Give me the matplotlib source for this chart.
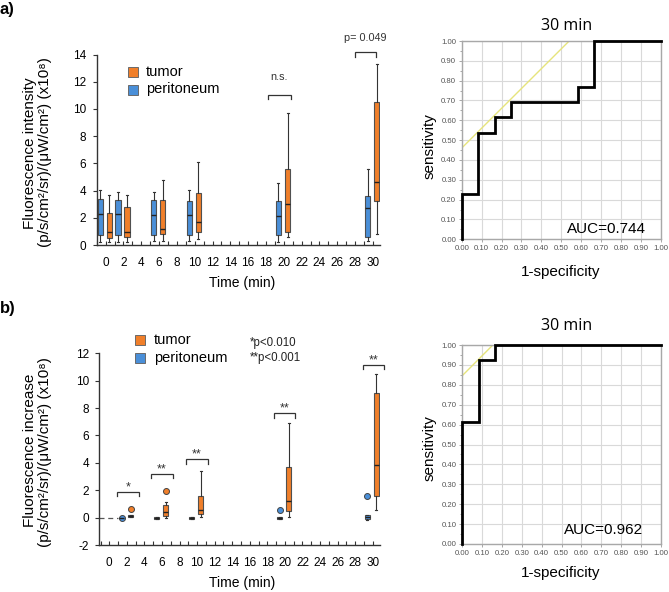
import numpy as np
import matplotlib
matplotlib.use("Agg")
import matplotlib.pyplot as plt
from matplotlib.patches import Rectangle

plt.rcParams['font.family'] = ['Liberation Sans', 'DejaVu Sans']

W, H = 669, 592
fig = plt.figure(figsize=(W / 100, H / 100), dpi=100)

def fx(x):
    return x / W

def fy(y):
    return 1 - y / H

# ---------------- data ----------------
times_a = [0, 2, 6, 10, 20, 30]
# (whislo, q1, med, q3, whishi)
peri_a = [
    (0.24, 0.73, 2.28, 3.35, 4.02),
    (0.24, 0.73, 2.28, 3.30, 3.92),
    (0.27, 0.73, 2.20, 3.30, 3.92),
    (0.27, 0.73, 2.20, 3.25, 4.02),
    (0.24, 0.73, 2.15, 3.25, 4.58),
    (0.30, 0.61, 2.74, 3.62, 5.58),
]
tumor_a = [
    (0.22, 0.55, 0.92, 2.33, 3.65),
    (0.24, 0.61, 0.93, 2.77, 3.67),
    (0.30, 0.78, 1.17, 3.30, 4.75),
    (0.42, 0.93, 1.66, 3.84, 6.12),
    (0.61, 0.98, 3.01, 5.56, 9.67),
    (0.81, 3.23, 4.60, 10.52, 13.27),
]
times_b = [2, 6, 10, 20, 30]
peri_b = [
    (-0.05, -0.05, -0.05, -0.05, -0.05),
    (-0.08, -0.07, 0.00, 0.07, 0.08),
    (-0.08, -0.07, 0.00, 0.06, 0.07),
    (-0.08, -0.07, 0.00, 0.06, 0.07),
    (-0.15, -0.08, 0.05, 0.20, 0.22),
]
peri_b_out = [[-0.05], [], [], [0.56], [1.58]]
tumor_b = [
    (0.06, 0.08, 0.15, 0.20, 0.22),
    (0.00, 0.15, 0.40, 0.90, 1.17),
    (0.05, 0.29, 0.56, 1.61, 3.41),
    (0.07, 0.51, 1.24, 3.72, 6.94),
    (0.56, 1.58, 3.85, 9.08, 10.50),
]
tumor_b_out = [[0.63], [1.97], [], [], []]
baseline_x = [-1.14, 1.0]
baseline_y = [0, 0]

# significance brackets: (x0, x1, y, label, text baseline)
brackets_a = [(18.2, 20.8, 11.06, 'n.s.', 12.1), (28.0, 30.4, 14.15, 'p= 0.049', 15.0)]
brackets_b = [(0.9, 3.4, 1.90, '*', 2.0), (4.7, 7.2, 3.19, '**', 3.31),
              (8.7, 11.2, 4.26, '**', 4.38), (18.8, 21.2, 7.62, '**', 7.75),
              (28.9, 31.3, 11.15, '**', 11.27)]

# ROC data
fpr_a = [0, 0, 1/12, 1/12, 2/12, 2/12, 3/12, 3/12, 7/12, 7/12, 8/12, 8/12, 1]
tpr_a = [0, 3/13, 3/13, 7/13, 7/13, 8/13, 8/13, 9/13, 9/13, 10/13, 10/13, 1, 1]
fpr_b = [0, 0, 1/12, 1/12, 2/12, 2/12, 1]
tpr_b = [0, 8/13, 8/13, 12/13, 12/13, 1, 1]
auc_a = 0.744
auc_b = 0.962
tangent_a = ([0, 0.54], [0.46, 1.0])
tangent_b = ([0, 0.154], [0.846, 1.0])

C_T = '#F07F2A'
C_P = '#4A8FD8'
EDGE = '#505050'

def stats_list(vals, outs=None):
    res = []
    for i, (lo, q1, med, q3, hi) in enumerate(vals):
        res.append(dict(whislo=lo, q1=q1, med=med, q3=q3, whishi=hi,
                        fliers=(outs[i] if outs else [])))
    return res

def draw_boxes(ax, stats, positions, color):
    ax.bxp(stats, positions=positions, widths=0.6, patch_artist=True,
           showfliers=True, capwidths=0.22,
           boxprops=dict(facecolor=color, edgecolor=EDGE, linewidth=0.8),
           medianprops=dict(color='#222222', linewidth=1.0),
           whiskerprops=dict(color='#333333', linewidth=0.8),
           capprops=dict(color='#333333', linewidth=0.8),
           flierprops=dict(marker='o', markerfacecolor=color,
                           markeredgecolor='#444444', markersize=4.3,
                           markeredgewidth=0.7))

def style_box_axes(ax, xlim, ylim, yticks):
    ax.set_xlim(*xlim)
    ax.set_ylim(*ylim)
    for s in ['top', 'right']:
        ax.spines[s].set_visible(False)
    for s in ['left', 'bottom']:
        ax.spines[s].set_color('#333333')
        ax.spines[s].set_linewidth(1.0)
    ax.set_xticks(range(0, 31, 2))
    ax.set_xticks(range(-1, 31, 1), minor=True)
    ax.set_xticklabels([str(v) for v in range(0, 31, 2)])
    ax.set_yticks(yticks)
    ax.set_yticklabels([str(v) for v in yticks])
    ax.tick_params(axis='x', which='both', direction='in', length=3.2,
                   width=0.8, color='#333333', labelsize=8.5, pad=8.5)
    ax.tick_params(axis='y', which='major', direction='out', length=3,
                   width=0.8, color='#333333', labelsize=8.5, pad=4.5)

def brackets(ax, items, fs):
    for x0, x1, y, lab, ty in items:
        h = 0.32
        ax.plot([x0, x0, x1, x1], [y - h, y, y, y - h], color='#333333',
                lw=0.9, clip_on=False, solid_joinstyle='miter')
        ax.text((x0 + x1) / 2, ty, lab, ha='center', va='baseline',
                fontsize=fs, color='#333333', clip_on=False)

# ---------------- panel a (box) ----------------
ax_a = fig.add_axes([fx(96.7), fy(245), fx(380) - fx(96.7), fy(54.5) - fy(245)])
draw_boxes(ax_a, stats_list(peri_a), [t - 0.6 for t in times_a], C_P)
draw_boxes(ax_a, stats_list(tumor_a), [t + 0.42 for t in times_a], C_T)
style_box_axes(ax_a, (-1.0, 30.8), (0, 14), list(range(0, 15, 2)))
brackets(ax_a, brackets_a, 7.8)

# ---------------- panel b (box) ----------------
ax_b = fig.add_axes([fx(99.3), fy(545), fx(380) - fx(99.3), fy(353.3) - fy(545)])
ax_b.plot(baseline_x, baseline_y, ls=(0, (4, 3)), color='#555555', lw=0.9)
draw_boxes(ax_b, stats_list(peri_b, peri_b_out), [t - 0.6 for t in times_b], C_P)
draw_boxes(ax_b, stats_list(tumor_b, tumor_b_out), [t + 0.42 for t in times_b], C_T)
style_box_axes(ax_b, (-1.14, 30.83), (-2, 12), list(range(-2, 13, 2)))
brackets(ax_b, brackets_b, 9)

# y labels and x labels for box panels
lab_fs = 11
fig.text(fx(30), fy(153), 'Fluorescence intensity', rotation=90,
         ha='center', va='center', fontsize=lab_fs)
fig.text(fx(45), fy(152), '(p/s/cm²/sr)/(μW/cm²) (x10⁸)', rotation=90,
         ha='center', va='center', fontsize=lab_fs)
fig.text(fx(30), fy(450), 'Fluorescence increase', rotation=90,
         ha='center', va='center', fontsize=lab_fs)
fig.text(fx(45), fy(452), '(p/s/cm²/sr)/(μW/cm²) (x10⁸)', rotation=90,
         ha='center', va='center', fontsize=lab_fs)
fig.text(fx(242), fy(283), 'Time (min)', ha='center', va='center', fontsize=10)
fig.text(fx(242.3), fy(583), 'Time (min)', ha='center', va='center', fontsize=10)

# panel letters
fig.text(fx(0), fy(9.5), 'a)', ha='left', va='center', fontsize=12, fontweight='bold')
fig.text(fx(0), fy(308), 'b)', ha='left', va='center', fontsize=12, fontweight='bold')

# manual legends
def legend_square(x, y, color):
    fig.add_artist(Rectangle((fx(x), fy(y + 9.5)), 10 / W, 9.5 / H,
                             facecolor=color, edgecolor='#6A6A6A', lw=0.7,
                             transform=fig.transFigure))

legend_square(128, 67, C_T)
legend_square(128, 85, C_P)
fig.text(fx(146), fy(71.5), 'tumor', ha='left', va='center', fontsize=10.5)
fig.text(fx(146), fy(89.5), 'peritoneum', ha='left', va='center', fontsize=10.5)

legend_square(135, 335, C_T)
legend_square(135, 353, C_P)
fig.text(fx(154), fy(340), 'tumor', ha='left', va='center', fontsize=10.5)
fig.text(fx(154), fy(358), 'peritoneum', ha='left', va='center', fontsize=10.5)
fig.text(fx(250), fy(343), '*p<0.010', ha='left', va='center', fontsize=8.3, color='#222222')
fig.text(fx(250), fy(358.5), '**p<0.001', ha='left', va='center', fontsize=8.3, color='#222222')

# ---------------- ROC panels ----------------
def roc_axes(rect, fpr, tpr, tang, auc, title_y, auc_xy, ylab_y, xlab_y):
    ax = fig.add_axes(rect)
    ax.set_xlim(0, 1)
    ax.set_ylim(0, 1)
    ticks = np.round(np.arange(0, 1.001, 0.1), 2)
    ax.set_xticks(ticks)
    ax.set_yticks(ticks)
    ax.set_yticks(np.round(np.arange(0.05, 1.0, 0.1), 2), minor=True)
    ax.set_xticklabels([f'{t:.2f}' for t in ticks])
    ax.set_yticklabels([f'{t:.2f}' for t in ticks])
    ax.grid(True, which='major', color='#D9D9D9', lw=0.8)
    ax.set_axisbelow(True)
    for s in ax.spines.values():
        s.set_color('#A8A8A8')
        s.set_linewidth(1.0)
    ax.tick_params(which='both', direction='out', color='#999999',
                   labelsize=5.6, labelcolor='#555555', width=0.6)
    ax.tick_params(which='major', length=2.5, pad=1.5)
    ax.tick_params(which='minor', length=1.5)
    for lab in ax.get_xticklabels() + ax.get_yticklabels():
        lab.set_family(['Liberation Sans Narrow', 'Liberation Sans', 'DejaVu Sans'])
    ax.plot(tang[0], tang[1], color='#E6E47C', lw=1.0, zorder=2)
    ax.plot(fpr, tpr, color='black', lw=2.0, zorder=3, clip_on=False,
            solid_joinstyle='miter')
    fig.text(fx(566.7), fy(title_y), '30 min', ha='center', va='center',
             fontsize=11.5, family=['Open Sans', 'DejaVu Sans'])
    fig.text(fx(auc_xy[0]), fy(auc_xy[1]), f'AUC={auc:.3f}', ha='center',
             va='center', fontsize=11)
    fig.text(fx(429.3), fy(ylab_y), 'sensitivity', rotation=90, ha='center',
             va='center', fontsize=11)
    fig.text(fx(560.7), fy(xlab_y), '1-specificity', ha='center',
             va='center', fontsize=11)
    return ax

roc_axes([fx(461.7), fy(239.3), fx(660.7) - fx(461.7), fy(41) - fy(239.3)],
         fpr_a, tpr_a, tangent_a, auc_a, 26, (606.7, 229), 146, 271.7)
roc_axes([fx(462.3), fy(544), fx(660.7) - fx(462.3), fy(345) - fy(544)],
         fpr_b, tpr_b, tangent_b, auc_b, 326, (603.5, 530), 448, 573.3)

fig.savefig('out.png', dpi=100)
